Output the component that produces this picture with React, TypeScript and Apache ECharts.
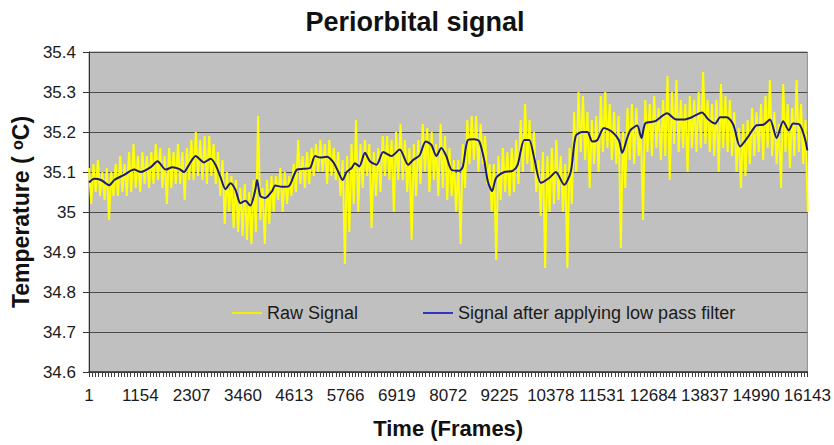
import { useEffect, useRef } from 'react';
import * as echarts from 'echarts';

const FONT = '"Liberation Sans", Arial, Helvetica, sans-serif';

const titleText = 'Periorbital signal';
const xAxisName = 'Time (Frames)';
const yAxisName = 'Temperature ( {sup|o}C)';
const rawName = 'Raw Signal';
const filtName = 'Signal after applying low pass filter';

// x axis: frames (0-based internally, labels shown as frame number = value + 1)
const xMax = 16142;
const xTickStep = 1153;
// y axis
const yMin = 34.6;
const yMax = 35.4;
const yStep = 0.1;

// Raw signal: upper / lower envelope samples every rawStep frames
const rawStep = 100;
const rawHigh = [
  35.11, 35.12, 35.13, 35.10, 35.11, 35.10, 35.12, 35.14, 35.12, 35.15, 35.17, 35.14, 35.15, 35.14, 35.15, 35.17, 35.16, 35.14, 35.16, 35.15, 35.17, 35.15, 35.16, 35.18, 35.20, 35.18, 35.19, 35.19, 35.17, 35.15, 35.13, 35.10, 35.09, 35.08, 35.06, 35.07, 35.05, 35.08, 35.24, 35.06, 35.08, 35.09,
  35.09, 35.11, 35.10, 35.09, 35.12, 35.18, 35.14, 35.15, 35.16, 35.17, 35.18, 35.17, 35.18, 35.16, 35.15, 35.13, 35.14, 35.17, 35.23, 35.17, 35.18, 35.17, 35.15, 35.16, 35.19, 35.19, 35.18, 35.20, 35.22, 35.18, 35.16, 35.17, 35.18, 35.22, 35.21, 35.20, 35.17, 35.22, 35.19, 35.16,
  35.13, 35.13, 35.17, 35.23, 35.24, 35.24, 35.22, 35.19, 35.12, 35.12, 35.14, 35.16, 35.15, 35.16, 35.18, 35.23, 35.27, 35.23, 35.20, 35.13, 35.15, 35.14, 35.16, 35.18, 35.14, 35.12, 35.16, 35.25, 35.30, 35.29, 35.25, 35.23, 35.24, 35.29, 35.30, 35.27, 35.25, 35.24, 35.20, 35.26,
  35.27, 35.26, 35.20, 35.28, 35.27, 35.29, 35.26, 35.28, 35.34, 35.30, 35.33, 35.28, 35.27, 35.29, 35.28, 35.30, 35.35, 35.28, 35.27, 35.28, 35.32, 35.29, 35.28, 35.25, 35.21, 35.22, 35.23, 35.26, 35.25, 35.27, 35.29, 35.33, 35.25, 35.22, 35.32, 35.27, 35.26, 35.33, 35.27, 35.23,
];
const rawLow = [
  35.02, 35.05, 35.04, 35.03, 34.98, 35.04, 35.04, 35.05, 35.04, 35.05, 35.06, 35.05, 35.07, 35.06, 35.07, 35.08, 35.06, 35.02, 35.06, 35.07, 35.07, 35.03, 35.08, 35.08, 35.09, 35.08, 35.07, 35.09, 35.07, 35.04, 34.97, 35.00, 34.96, 34.95, 34.94, 34.93, 34.92, 34.95, 34.98, 34.92, 34.97, 35.00,
  35.03, 35.00, 35.02, 35.04, 35.05, 35.07, 35.06, 35.07, 35.09, 35.10, 35.10, 35.07, 35.09, 35.08, 35.04, 34.87, 34.95, 35.02, 35.00, 35.06, 35.09, 34.96, 35.04, 35.05, 35.09, 35.08, 35.00, 35.08, 35.08, 35.05, 34.93, 35.04, 35.07, 35.10, 35.05, 35.08, 35.04, 35.06, 35.03, 35.04,
  35.00, 34.92, 35.06, 35.12, 35.13, 35.10, 35.12, 35.07, 35.00, 34.88, 35.03, 35.05, 35.04, 35.05, 35.07, 35.10, 35.12, 35.10, 35.05, 34.99, 34.86, 35.00, 35.02, 35.03, 35.00, 34.86, 35.02, 35.10, 35.15, 35.13, 35.06, 35.12, 35.10, 35.15, 35.16, 35.13, 35.12, 34.91, 35.06, 35.13,
  35.12, 35.14, 34.98, 35.15, 35.14, 35.16, 35.13, 35.14, 35.08, 35.17, 35.15, 35.16, 35.10, 35.16, 35.15, 35.16, 35.17, 35.15, 35.14, 35.10, 35.16, 35.15, 35.14, 35.10, 35.06, 35.09, 35.12, 35.14, 35.15, 35.13, 35.16, 35.14, 35.12, 35.06, 35.15, 35.11, 35.14, 35.15, 35.12, 35.00,
];

// Low-pass filtered signal
const filtFrames = [
  0, 120, 270, 456, 567, 792, 1015, 1165, 1388, 1538, 1724, 1873, 2023, 2135, 2247, 2395, 2583, 2731, 2843, 2955,
  3067, 3178, 3290, 3402, 3514, 3626, 3738, 3776, 3850, 3962, 4111, 4185, 4335, 4485, 4671, 4821, 4968, 5080, 5192, 5342,
  5492, 5604, 5700, 5790, 5902, 5976, 6074, 6200, 6311, 6461, 6611, 6797, 6983, 7171, 7283, 7430, 7565, 7692, 7804, 7916,
  8028, 8140, 8326, 8401, 8513, 8661, 8773, 8885, 8961, 9057, 9147, 9333, 9520, 9632, 9780, 9892, 10004, 10154, 10340, 10490,
  10676, 10825, 10937, 11087, 11199, 11311, 11423, 11571, 11758, 11906, 11982, 12094, 12168, 12318, 12414, 12504, 12728, 12990, 13175, 13361,
  13549, 13772, 13920, 14070, 14182, 14332, 14480, 14630, 14816, 15004, 15152, 15301, 15451, 15599, 15726, 15822, 15972, 16084, 16142,
];
const filtValues = [
  35.074, 35.083, 35.08, 35.067, 35.08, 35.093, 35.106, 35.1, 35.112, 35.127, 35.106, 35.112, 35.108, 35.1, 35.118, 35.14, 35.124, 35.133, 35.118, 35.087,
  35.057, 35.072, 35.056, 35.022, 35.028, 35.016, 35.056, 35.08, 35.04, 35.035, 35.052, 35.066, 35.063, 35.064, 35.106, 35.108, 35.11, 35.14, 35.136, 35.138,
  35.124, 35.1, 35.08, 35.1, 35.11, 35.122, 35.114, 35.148, 35.127, 35.118, 35.15, 35.14, 35.156, 35.118, 35.13, 35.142, 35.176, 35.168, 35.14, 35.16,
  35.14, 35.106, 35.103, 35.114, 35.18, 35.182, 35.176, 35.127, 35.077, 35.052, 35.085, 35.1, 35.103, 35.118, 35.18, 35.18, 35.135, 35.073, 35.085, 35.1,
  35.068, 35.1, 35.19, 35.2, 35.2, 35.176, 35.18, 35.21, 35.2, 35.18, 35.148, 35.185, 35.205, 35.216, 35.185, 35.222, 35.227, 35.247, 35.232, 35.231,
  35.237, 35.249, 35.231, 35.221, 35.237, 35.237, 35.218, 35.164, 35.189, 35.217, 35.218, 35.231, 35.185, 35.227, 35.204, 35.221, 35.218, 35.185, 35.154,
];

const TEXT = '#1a1a1a';

export default function App() {
  const ref = useRef<HTMLDivElement>(null);
  useEffect(() => {
    const chart = echarts.init(ref.current!, null, { renderer: 'svg' });
    const raw: number[][] = [];
    rawHigh.forEach((h, i) => {
      raw.push([i * rawStep, h]);
      raw.push([i * rawStep + rawStep / 2, rawLow[i]]);
    });
    const filt = filtFrames.map((f, i) => [f, filtValues[i]]);
    const legendBase = {
      orient: 'horizontal',
      top: 299,
      itemWidth: 30,
      itemHeight: 2,
      selectedMode: false,
      textStyle: { fontFamily: FONT, fontSize: 18, color: TEXT },
    };
    chart.setOption({
      animation: false,
      backgroundColor: '#ffffff',
      title: {
        text: titleText,
        left: 410,
        textAlign: 'center',
        top: 3,
        textStyle: { fontFamily: FONT, fontSize: 27, fontWeight: 'bold', color: '#111' },
      },
      legend: [
        { ...legendBase, left: 227, data: [{ name: rawName, icon: 'rect', itemStyle: { color: '#f2f000' } }] },
        { ...legendBase, left: 418, data: [{ name: filtName, icon: 'rect', itemStyle: { color: '#3434c0' } }] },
      ],
      grid: {
        left: 89,
        right: 23,
        top: 52,
        bottom: 73,
        show: true,
        backgroundColor: '#c0c0c0',
        borderColor: '#8c8c8c',
        borderWidth: 1,
      },
      xAxis: {
        type: 'value',
        min: 0,
        max: xMax,
        interval: xTickStep,
        name: xAxisName,
        nameLocation: 'middle',
        nameGap: 45,
        nameTextStyle: { fontFamily: FONT, fontSize: 22, fontWeight: 'bold', color: '#111' },
        axisLine: { show: true, onZero: false, lineStyle: { color: '#333', width: 1.5 } },
        axisTick: { show: true, inside: false, length: 5, lineStyle: { color: '#333', width: 1 } },
        minorTick: { show: true, splitNumber: 16, length: 5, lineStyle: { color: '#404040', width: 1 } },
        splitLine: { show: false },
        minorSplitLine: { show: false },
        axisLabel: {
          formatter: (v: number) => String(Math.round(v) + 1),
          fontFamily: FONT,
          fontSize: 17,
          color: TEXT,
          margin: 15,
        },
      },
      yAxis: {
        type: 'value',
        min: yMin,
        max: yMax,
        interval: yStep,
        name: yAxisName,
        nameLocation: 'middle',
        nameGap: 54,
        nameTextStyle: {
          fontFamily: FONT,
          fontSize: 23,
          fontWeight: 'bold',
          color: '#111',
          rich: {
            sup: { fontFamily: FONT, fontSize: 16, fontWeight: 'bold', color: '#111', verticalAlign: 'top' },
          },
        },
        axisLine: { show: true, lineStyle: { color: '#333', width: 1 } },
        axisTick: { show: true, length: 6, lineStyle: { color: '#333' } },
        splitLine: { show: true, lineStyle: { color: '#4a4a4a', width: 1 } },
        axisLabel: { fontFamily: FONT, fontSize: 17, color: TEXT, margin: 13 },
      },
      series: [
        {
          type: 'line',
          name: rawName,
          data: raw,
          symbol: 'none',
          showSymbol: false,
          silent: true,
          lineStyle: { color: '#ffff00', width: 2 },
          itemStyle: { color: '#ffff00' },
          z: 2,
        },
        {
          type: 'line',
          name: filtName,
          data: filt,
          symbol: 'none',
          showSymbol: false,
          silent: true,
          smooth: 0.25,
          lineStyle: { color: '#1b1b78', width: 2 },
          itemStyle: { color: '#1b1b78' },
          z: 3,
        },
      ],
    });
    return () => chart.dispose();
  }, []);
  return <div ref={ref} style={{ position: 'absolute', left: 0, top: 0, width: 834, height: 445 }} />;
}
